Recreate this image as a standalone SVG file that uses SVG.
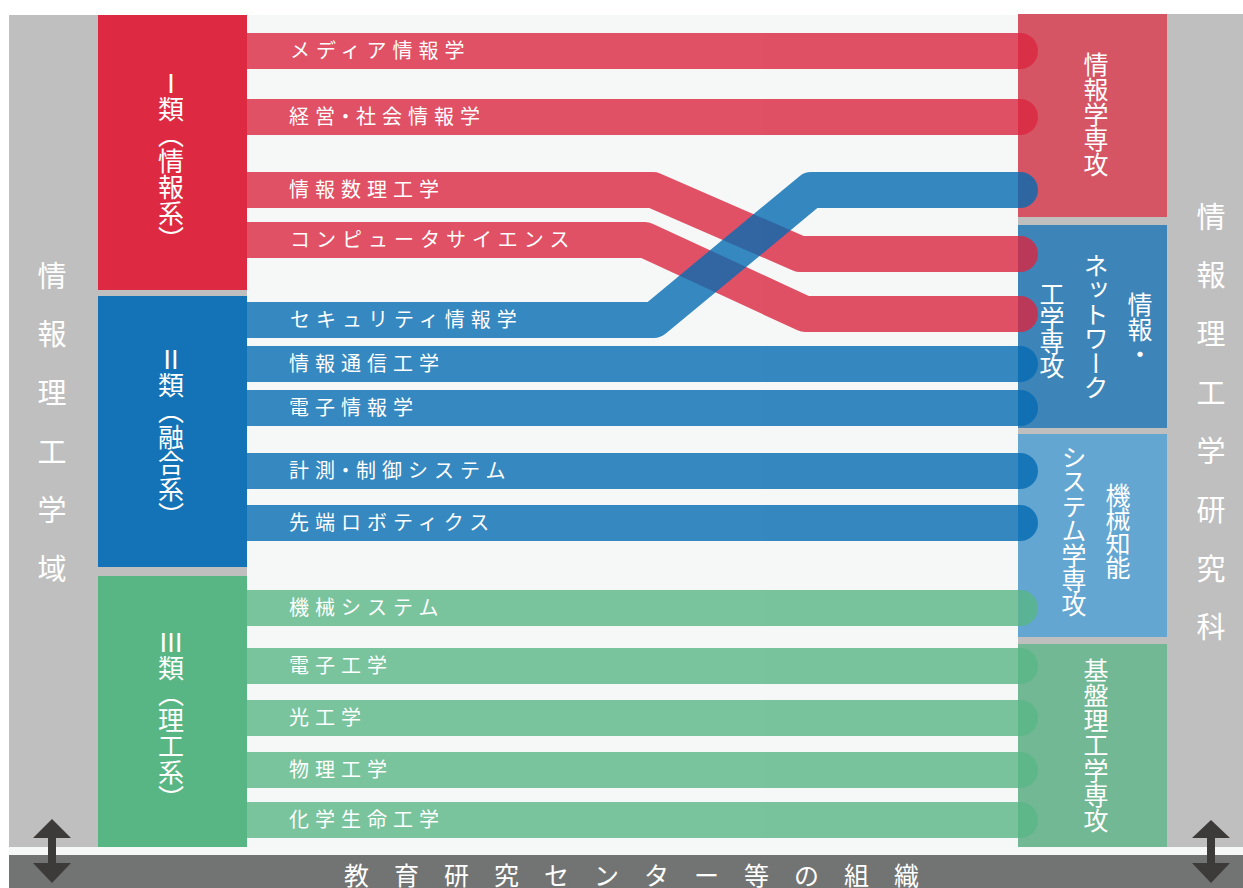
<svg xmlns="http://www.w3.org/2000/svg" width="1243" height="888" viewBox="0 0 1243 888">
<defs>
<style>
text{font-family:"Noto Sans CJK JP","Noto Sans",sans-serif;fill:#fff;}
.bl{font-size:20px;letter-spacing:6px;}
.vs{font-size:29px;writing-mode:vertical-rl;letter-spacing:29.7px;}
.vb{font-size:25px;writing-mode:vertical-rl;}
.vc{font-size:26px;writing-mode:vertical-rl;}
.bar{opacity:.8;}
.bar path{fill:none;stroke-width:36;stroke-linejoin:round;}
.r path{stroke:#db2741;} .r circle{fill:#db2741;}
.b path{stroke:#056bb2;} .b circle{fill:#056bb2;}
.g path{stroke:#5ab786;} .g circle{fill:#5ab786;}
.arrow{fill:#3d3a3a;}
</style>
</defs>
<rect x="0" y="0" width="1243" height="888" fill="#fff"/>
<rect x="9" y="15" width="1234" height="840" fill="#f6f8f8"/>

<g id="domain">
<rect x="9" y="15" width="238" height="832" fill="#bfbfbf"/>
<text class="vs" x="52" y="261">情報理工学域</text>
</g>
<g id="graduate">
<rect x="1018" y="14" width="225" height="833" fill="#bfbfbf"/>
<text class="vs" x="1211" y="202">情報理工学研究科</text>
</g>

<g id="class1"><rect x="98" y="15" width="149" height="275" fill="#dd2a42"/><text class="vc" x="171" y="70">Ⅰ類（情報系）</text></g>
<g id="class2"><rect x="98" y="296" width="149" height="271" fill="#1473b6"/><text class="vc" x="171" y="346">Ⅱ類（融合系）</text></g>
<g id="class3"><rect x="98" y="576" width="149" height="271" fill="#58b685"/><text class="vc" x="171" y="629">Ⅲ類（理工系）</text></g>

<g id="major-info"><rect x="1018" y="14" width="149" height="203" fill="#d55565"/></g>
<g id="major-net"><rect x="1018" y="225" width="149" height="203" fill="#3d85b8"/></g>
<g id="major-mech"><rect x="1018" y="434" width="149" height="203" fill="#64a6d2"/></g>
<g id="major-basic"><rect x="1018" y="644" width="149" height="203" fill="#72b894"/></g>

<g id="connectors">
<g class="bar r"><path d="M247,51 H1020"/><circle cx="1020" cy="51" r="18"/></g>
<g class="bar r"><path d="M247,117 H1020"/><circle cx="1020" cy="117" r="18"/></g>
<g class="bar r"><path d="M247,190 H653 L800,254 H1020"/><circle cx="1020" cy="254" r="18"/></g>
<g class="bar r"><path d="M247,240 H645 L805,314 H1020"/><circle cx="1020" cy="314" r="18"/></g>
<g class="bar b"><path d="M247,320 H654 L811,190 H1020"/><circle cx="1020" cy="190" r="18"/></g>
<g class="bar b"><path d="M247,364 H1020"/><circle cx="1020" cy="364" r="18"/></g>
<g class="bar b"><path d="M247,408 H1020"/><circle cx="1020" cy="408" r="18"/></g>
<g class="bar b"><path d="M247,471 H1020"/><circle cx="1020" cy="471" r="18"/></g>
<g class="bar b"><path d="M247,523 H1020"/><circle cx="1020" cy="523" r="18"/></g>
<g class="bar g"><path d="M247,608 H1020"/><circle cx="1020" cy="608" r="18"/></g>
<g class="bar g"><path d="M247,666 H1020"/><circle cx="1020" cy="666" r="18"/></g>
<g class="bar g"><path d="M247,718 H1020"/><circle cx="1020" cy="718" r="18"/></g>
<g class="bar g"><path d="M247,770 H1020"/><circle cx="1020" cy="770" r="18"/></g>
<g class="bar g"><path d="M247,820 H1020"/><circle cx="1020" cy="820" r="18"/></g>
</g>

<g id="bar-labels">
<text class="bl" x="290" y="57.5">メディア情報学</text>
<text class="bl" x="289" y="123.5">経営<tspan dx="-5.5">・</tspan><tspan dx="-5.5">社会情報学</tspan></text>
<text class="bl" x="289" y="196.5">情報数理工学</text>
<text class="bl" x="290" y="246.5">コンピュータサイエンス</text>
<text class="bl" x="290" y="326.5">セキュリティ情報学</text>
<text class="bl" x="289" y="370.5">情報通信工学</text>
<text class="bl" x="289" y="414.5">電子情報学</text>
<text class="bl" x="289" y="477.5">計測<tspan dx="-5.5">・</tspan><tspan dx="-5.5">制御システム</tspan></text>
<text class="bl" x="289" y="529.5">先端ロボティクス</text>
<text class="bl" x="289" y="614.5">機械システム</text>
<text class="bl" x="289" y="672.5">電子工学</text>
<text class="bl" x="289" y="724.5">光工学</text>
<text class="bl" x="289" y="776.5">物理工学</text>
<text class="bl" x="289" y="826.5">化学生命工学</text>
</g>

<g id="major-info-label"><text class="vb" x="1096" y="52">情報学専攻</text></g>
<g id="major-net-label">
<text class="vb" x="1140" y="292">情報・</text>
<text class="vb" x="1096" y="252.5" style="letter-spacing:-0.5px">ネットワーク</text>
<text class="vb" x="1052" y="281.5" style="letter-spacing:-1px">工学専攻</text>
</g>
<g id="major-mech-label">
<text class="vb" x="1118" y="482.5" style="letter-spacing:-1px">機械知能</text>
<text class="vb" x="1074" y="444.5" style="letter-spacing:-0.4px">システム学専攻</text>
</g>
<g id="major-basic-label"><text class="vb" x="1096" y="657.5">基盤理工学専攻</text></g>

<g id="center">
<rect x="9" y="855" width="1234" height="33" fill="#727473"/>
<text x="344" y="885" style="font-size:25px;letter-spacing:25px">教育研究センター等の組織</text>
</g>

<g id="arrows">
<path class="arrow" d="M33,838 L52,819 L71,838 H56 V863 H71 L52,883 L33,863 H48 V838 Z"/>
<path class="arrow" d="M1192,838 L1211,820 L1230,838 H1215 V863 H1230 L1211,883 L1192,863 H1207 V838 Z"/>
</g>
</svg>
